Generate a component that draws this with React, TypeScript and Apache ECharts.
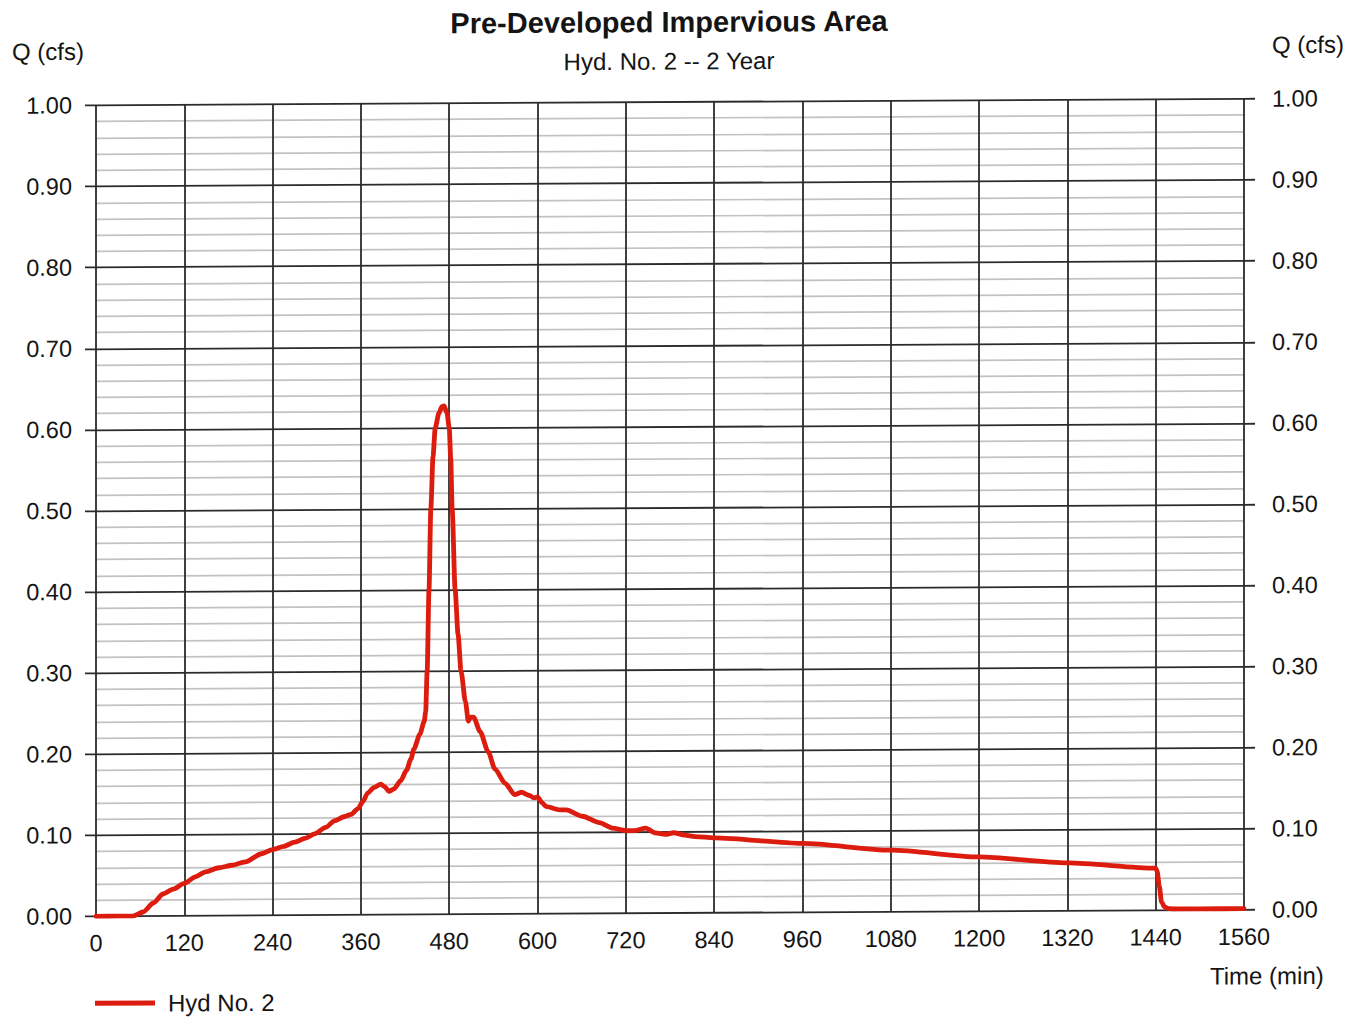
import React, { useEffect, useRef } from "react";
import * as echarts from "echarts";

// Hydrograph ordinates: time (min) and flow Q (cfs)
const timeMin: number[] = [
  0, 30, 50, 64, 78, 91, 105, 120, 135, 149, 167, 185, 203, 225, 240, 255, 270, 285, 297, 312,
  324, 337, 347, 356, 363, 369, 378, 387, 392, 398, 405, 414, 422, 428, 432, 440, 446, 448, 450,
  452.5, 455, 458, 461, 466, 470, 473, 477, 480, 482, 484, 488, 492, 496, 502, 506, 509, 513,
  522, 533, 542, 556, 569, 578, 589, 595, 600, 606, 612, 630, 639, 661, 684, 702, 720, 733, 747,
  760, 774, 785, 800, 814, 840, 960, 1080, 1200, 1320, 1440, 1442, 1445, 1448, 1452, 1458, 1470,
  1500, 1560,
];
const flowCfs: number[] = [
  0, 0, 0, 0.005, 0.016, 0.027, 0.033, 0.04, 0.048, 0.054, 0.059, 0.062, 0.066, 0.076, 0.081,
  0.085, 0.09, 0.095, 0.1, 0.108, 0.116, 0.121, 0.124, 0.131, 0.14, 0.15, 0.157, 0.161, 0.158,
  0.152, 0.155, 0.165, 0.178, 0.192, 0.204, 0.222, 0.238, 0.25, 0.3, 0.4, 0.5, 0.565, 0.6, 0.618,
  0.626, 0.627, 0.618, 0.6, 0.563, 0.5, 0.4, 0.345, 0.3, 0.262, 0.238, 0.243, 0.243, 0.225, 0.2,
  0.179, 0.161, 0.147, 0.15, 0.146, 0.143, 0.144, 0.137, 0.132, 0.128, 0.128, 0.12, 0.112, 0.105,
  0.102, 0.102, 0.105, 0.099, 0.097, 0.099, 0.096, 0.094, 0.0925, 0.085, 0.076, 0.067, 0.059,
  0.052, 0.048, 0.029, 0.01, 0.004, 0.002, 0.0015, 0.0015, 0.0015,
];

const seriesName = "Hyd No. 2";
const chartTitle = "Pre-Developed Impervious Area";
const chartSubtitle = "Hyd. No. 2 -- 2 Year";
const yAxisName = "Q (cfs)";
const xAxisName = "Time (min)";

const FONT = "'Liberation Sans', Arial, sans-serif";
const INK = "#141414";
const RED = "#dc1c0e";
const MAJOR = "#2b2b2b";
const MINOR = "#c2c2c2";

export default function App() {
  const ref = useRef<HTMLDivElement>(null);

  useEffect(() => {
    if (!ref.current) return;
    const chart = echarts.init(ref.current, undefined, { renderer: "svg" });
    const points = timeMin.map((t, i) => [t, flowCfs[i]]);

    const yLabel = {
      fontSize: 23.5,
      color: INK,
      fontFamily: FONT,
      formatter: (v: number) => v.toFixed(2),
    };

    chart.setOption({
      animation: false,
      backgroundColor: "#ffffff",
      title: [
        {
          text: chartTitle,
          left: 664,
          top: 2,
          textAlign: "center",
          textStyle: { fontSize: 29, fontWeight: "bold", color: INK, fontFamily: FONT, lineHeight: 30 },
        },
        {
          text: chartSubtitle,
          left: 664,
          top: 43,
          textAlign: "center",
          textStyle: { fontSize: 24, fontWeight: "normal", color: INK, fontFamily: FONT, lineHeight: 26 },
        },
      ],
      legend: {
        left: 90,
        top: 983,
        icon: "rect",
        itemWidth: 60,
        itemHeight: 5,
        textStyle: { fontSize: 24, color: INK, fontFamily: FONT, padding: [0, 0, 0, 8] },
        data: [seriesName],
      },
      grid: { left: 96, right: 115, top: 102, bottom: 104, containLabel: false },
      xAxis: {
        type: "value",
        min: 0,
        max: 1560,
        interval: 120,
        axisLine: { show: false },
        axisTick: { show: false },
        axisLabel: {
          fontSize: 23.5,
          color: INK,
          fontFamily: FONT,
          margin: 15,
          showMinLabel: true,
          showMaxLabel: true,
          formatter: (v: number) => String(v),
        },
        splitLine: { show: true, lineStyle: { color: MAJOR, width: 1.8 } },
      },
      yAxis: [
        {
          type: "value",
          min: 0,
          max: 1,
          interval: 0.1,
          position: "left",
          axisLine: { show: false },
          axisTick: { show: true, length: 11, lineStyle: { color: MAJOR, width: 1.8 } },
          axisLabel: { ...yLabel, margin: 24 },
          splitLine: { show: true, lineStyle: { color: MAJOR, width: 1.8 } },
          minorTick: { show: false, splitNumber: 5 },
          minorSplitLine: { show: true, lineStyle: { color: MINOR, width: 1.7 } },
        },
        {
          type: "value",
          min: 0,
          max: 1,
          interval: 0.1,
          position: "right",
          axisLine: { show: false },
          axisTick: { show: true, length: 11, lineStyle: { color: MAJOR, width: 1.8 } },
          axisLabel: { ...yLabel, margin: 28 },
          splitLine: { show: false },
        },
      ],
      graphic: [
        { type: "text", left: 12, top: 36, style: { text: yAxisName, fontSize: 24, fill: INK, fontFamily: FONT } },
        { type: "text", left: 1272, top: 36, style: { text: yAxisName, fontSize: 24, fill: INK, fontFamily: FONT } },
        { type: "text", left: 1210, top: 967, style: { text: xAxisName, fontSize: 24, fill: INK, fontFamily: FONT } },
      ],
      series: [
        {
          name: seriesName,
          type: "line",
          data: points,
          showSymbol: false,
          smooth: 0.25,
          smoothMonotone: "x",
          lineStyle: { color: RED, width: 4.8, cap: "round", join: "round" },
          itemStyle: { color: RED },
          z: 5,
        },
      ],
    });

    return () => chart.dispose();
  }, []);

  return (
    <div style={{ position: "fixed", left: 0, top: 0, width: 1359, height: 1017, overflow: "hidden", background: "#fff" }}>
      <div ref={ref} style={{ width: 1359, height: 1017, transform: "skewY(-0.324deg)" }} />
    </div>
  );
}
